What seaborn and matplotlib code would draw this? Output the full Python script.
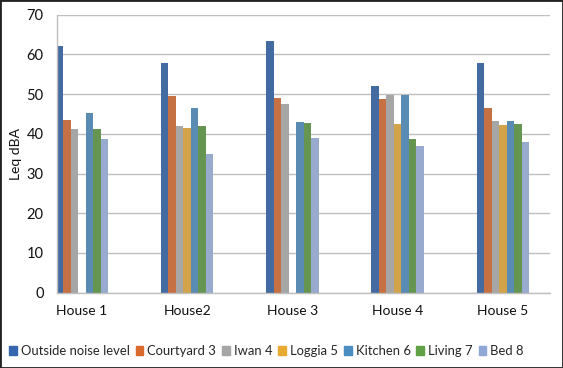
import numpy as np
import pandas as pd
import matplotlib
matplotlib.use("Agg")
import matplotlib.pyplot as plt
import matplotlib.patches as mpatches
import seaborn as sns

houses = ["House 1", "House2", "House 3", "House 4", "House 5"]
locations = ["Outside noise level", "Courtyard 3", "Iwan 4", "Loggia 5",
             "Kitchen 6", "Living 7", "Bed 8"]

# Leq dBA per location, one value per house (nan = not measured)
outside = [62.0, 57.9, 63.5, 52.0, 57.8]
courtyard = [43.6, 49.6, 49.1, 48.8, 46.6]
iwan = [41.1, 41.9, 47.5, 49.9, 43.3]
loggia = [np.nan, 41.4, np.nan, 42.6, 42.2]
kitchen = [45.3, 46.5, 43.1, 49.9, 43.3]
living = [41.1, 41.9, 42.7, 38.7, 42.6]
bed = [38.7, 34.9, 39.0, 37.0, 37.9]

colors = ["#3467B0", "#DB6A2E", "#A6A6A6", "#E9AA34",
          "#4A8DC2", "#62A046", "#8FA8D8"]

series = [outside, courtyard, iwan, loggia, kitchen, living, bed]
rows = []
for loc, vals in zip(locations, series):
    for h, v in zip(houses, vals):
        rows.append({"House": h, "Location": loc, "Leq": v})
df = pd.DataFrame(rows).dropna()

sns.set_theme(style="white")
plt.rcParams["font.family"] = ["Lato", "DejaVu Sans"]

fig = plt.figure(figsize=(5.63, 3.68), dpi=100)
ax = fig.add_axes([0.102, 0.2046, 0.875, 0.7554])

sns.barplot(data=df, x="House", y="Leq", hue="Location",
            order=houses, hue_order=locations, palette=colors,
            width=0.5, gap=0, linewidth=0, errorbar=None,
            legend=False, ax=ax)

ax.set_ylim(0, 70)
ax.set_yticks(range(0, 71, 10))
ax.set_xlim(-0.233, 4.448)
ax.grid(axis="y", color="#BFBFBF", linewidth=1)
ax.set_axisbelow(True)
for s in ["top", "right"]:
    ax.spines[s].set_visible(False)
for s in ["left", "bottom"]:
    ax.spines[s].set_color("#BFBFBF")
    ax.spines[s].set_linewidth(1)

ax.tick_params(axis="x", length=0, pad=9, labelsize=10, colors="#111111")
ax.tick_params(axis="y", length=0, pad=10, labelsize=10.5, colors="#111111")
ax.set_xlabel("")
ax.set_ylabel("Leq dBA", fontsize=10, color="#111111")
ax.yaxis.set_label_coords(-0.072, 0.5)

handles = [mpatches.Patch(color=c, label=l) for c, l in zip(colors, locations)]
fig.legend(handles=handles, loc="lower left", bbox_to_anchor=(0.0, 0.005),
           ncol=7, frameon=False, fontsize=9.4, handlelength=0.6,
           handleheight=0.6, handletextpad=0.3, columnspacing=0.45,
           borderaxespad=0.3)

fig.patches.append(mpatches.Rectangle((0, 0), 1, 1, transform=fig.transFigure,
                                      fill=False, edgecolor="#222222",
                                      linewidth=2))

fig.savefig("out.png", dpi=100)
